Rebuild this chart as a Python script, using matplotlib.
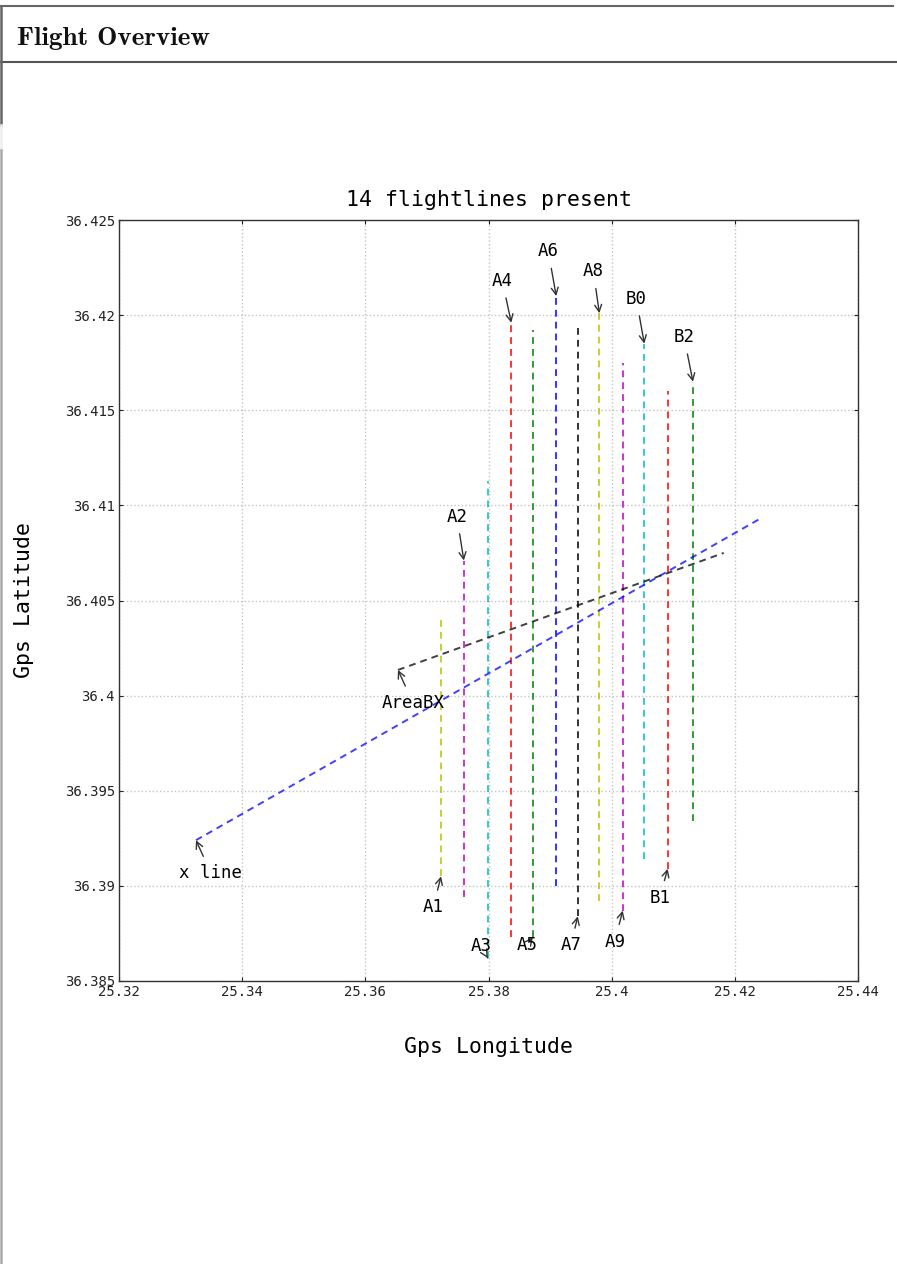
import matplotlib
matplotlib.use("Agg")
import matplotlib.pyplot as plt
from matplotlib.lines import Line2D

# ---- data ----
line_names = ["A1", "A2", "A3", "A4", "A5", "A6", "A7", "A8", "A9", "B0", "B1", "B2"]
line_lon = [25.3723, 25.3760, 25.3799, 25.3837, 25.3872, 25.3910, 25.3945, 25.3980, 25.4018, 25.4053, 25.4091, 25.4132]
line_lat_start = [36.3905, 36.3894, 36.3862, 36.3873, 36.3873, 36.3900, 36.3884, 36.3892, 36.3887, 36.3914, 36.3909, 36.3934]
line_lat_end = [36.4042, 36.4071, 36.4113, 36.4196, 36.4192, 36.4210, 36.4193, 36.4201, 36.4175, 36.4185, 36.4160, 36.4165]
line_colors = ["y", "m", "c", "r", "g", "b", "k", "y", "m", "c", "r", "g"]
label_at_top = [False, True, False, True, False, True, False, True, False, True, False, True]

cross_names = ["x line", "AreaBX"]
cross_lon = [[25.3325, 25.4241], [25.3653, 25.4182]]
cross_lat = [[36.3924, 36.4093], [36.40135, 36.4075]]
cross_colors = ["b", "k"]

xticks = [25.32, 25.34, 25.36, 25.38, 25.40, 25.42, 25.44]
xticklabels = ["25.32", "25.34", "25.36", "25.38", "25.4", "25.42", "25.44"]
yticks = [36.385, 36.39, 36.395, 36.40, 36.405, 36.41, 36.415, 36.42, 36.425]
yticklabels = ["36.385", "36.39", "36.395", "36.4", "36.405", "36.41", "36.415", "36.42", "36.425"]

title = "14 flightlines present"
header = "Flight Overview"

# ---- figure ----
W, H = 897, 1264
fig = plt.figure(figsize=(W / 100, H / 100), dpi=100)
mono = "DejaVu Sans Mono"

# page decorations
fig.add_artist(Line2D([0, 893 / W], [1 - 6 / H, 1 - 6 / H], color="#666666", lw=1.5, transform=fig.transFigure))
fig.add_artist(Line2D([0, 1], [1 - 62 / H, 1 - 62 / H], color="#555555", lw=1.5, transform=fig.transFigure))
fig.add_artist(Line2D([0.5 / W, 0.5 / W], [1 - 6 / H, 1 - 125 / H], color="#666666", lw=1.8, transform=fig.transFigure))
fig.add_artist(Line2D([0.5 / W, 0.5 / W], [1 - 125 / H, 1 - 150 / H], color="#eeeeee", lw=1.8, transform=fig.transFigure))
fig.add_artist(Line2D([0.5 / W, 0.5 / W], [1 - 150 / H, 0], color="#aaaaaa", lw=1.8, transform=fig.transFigure))
fig.text(17 / W, 1 - 39 / H, header, family=["cmb10", "DejaVu Serif"], fontsize=19.5,
         ha="left", va="center", color="#111111")

ax = fig.add_axes([119 / W, 1 - 981 / H, 739 / W, 761 / H])

dash = (3.5, 2.6)
for name, x, y0, y1, c, top in zip(line_names, line_lon, line_lat_start, line_lat_end, line_colors, label_at_top):
    ax.plot([x, x], [y0, y1], linestyle="--", dashes=dash, color=c, lw=1.4, alpha=0.8)

for name, xs, ys, c in zip(cross_names, cross_lon, cross_lat, cross_colors):
    ax.plot(xs, ys, linestyle="--", dashes=dash, color=c, lw=1.4, alpha=0.75)

# annotations
label_offsets = {
    "A1": (-8, -31), "A2": (-7, 44), "A3": (-7, 12), "A4": (-9, 42), "A5": (-6, -8),
    "A6": (-8, 45), "A7": (-7, -29), "A8": (-6, 42), "A9": (-8, -31), "B0": (-8, 45),
    "B1": (-8, -29), "B2": (-9, 45), "x line": (15, -33), "AreaBX": (15, -33),
}
arrow = dict(arrowstyle="->", color="#333333", lw=1.0, shrinkA=4, shrinkB=0)
for name, x, y0, y1, top in zip(line_names, line_lon, line_lat_start, line_lat_end, label_at_top):
    pt = (x, y1) if top else (x, y0)
    ax.annotate(name, xy=pt, xytext=label_offsets[name], textcoords="offset pixels",
                ha="center", va="center", family=mono, fontsize=12.5, arrowprops=arrow)
for name, xs, ys in zip(cross_names, cross_lon, cross_lat):
    ax.annotate(name, xy=(xs[0], ys[0]), xytext=label_offsets[name], textcoords="offset pixels",
                ha="center", va="center", family=mono, fontsize=12.5, arrowprops=arrow)

ax.set_xlim(25.32, 25.44)
ax.set_ylim(36.385, 36.425)
ax.set_xticks(xticks)
ax.set_xticklabels(xticklabels, family=mono, fontsize=10)
ax.set_yticks(yticks)
ax.set_yticklabels(yticklabels, family=mono, fontsize=10)
ax.tick_params(direction="in", top=True, right=True, length=3, width=0.8, pad=3, colors="#222222")
ax.grid(True, linestyle=":", color="#c4c4c4", lw=1.0)
for s in ax.spines.values():
    s.set_color("#333333")
    s.set_linewidth(1.0)

ax.set_title(title, family=mono, fontsize=15.5, pad=10)
ax.set_xlabel("Gps Longitude", family=mono, fontsize=15.5, labelpad=27)
ax.set_ylabel("Gps Latitude", family=mono, fontsize=15.5, labelpad=22)

fig.savefig("out.png", dpi=100)
